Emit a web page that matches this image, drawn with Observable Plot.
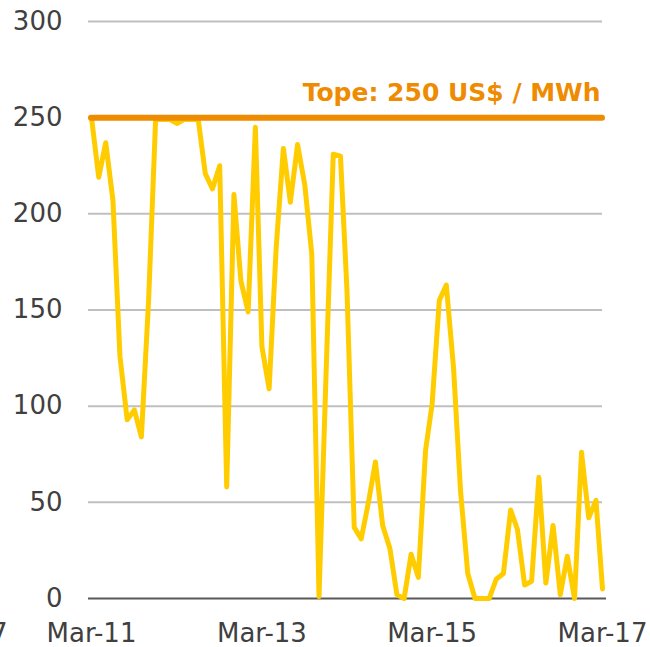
<!DOCTYPE html>
<html><head><meta charset="utf-8">
<script src="https://cdn.jsdelivr.net/npm/d3@7"></script>
<script src="https://cdn.jsdelivr.net/npm/@observablehq/plot@0.6"></script>
<style>
html,body{margin:0;padding:0;background:#fff;}
#chart svg{display:block;}
</style></head><body><div id="chart"></div>
<script>
const months = [
  "2011-03","2011-04","2011-05","2011-06","2011-07","2011-08","2011-09","2011-10","2011-11","2011-12",
  "2012-01","2012-02","2012-03","2012-04","2012-05","2012-06","2012-07","2012-08","2012-09","2012-10","2012-11","2012-12",
  "2013-01","2013-02","2013-03","2013-04","2013-05","2013-06","2013-07","2013-08","2013-09","2013-10","2013-11","2013-12",
  "2014-01","2014-02","2014-03","2014-04","2014-05","2014-06","2014-07","2014-08","2014-09","2014-10","2014-11","2014-12",
  "2015-01","2015-02","2015-03","2015-04","2015-05","2015-06","2015-07","2015-08","2015-09","2015-10","2015-11","2015-12",
  "2016-01","2016-02","2016-03","2016-04","2016-05","2016-06","2016-07","2016-08","2016-09","2016-10","2016-11","2016-12",
  "2017-01","2017-02","2017-03"
];
const prices = [
  250, 219, 237, 207, 126, 93, 98, 84, 155, 249,
  249, 249, 247, 249, 249, 249, 221, 213, 225, 58, 210, 165,
  149, 245, 131, 109, 182, 234, 206, 236, 215, 179, 1, 116,
  231, 230, 160, 37, 31, 50, 71, 38, 26, 2, 0, 23,
  11, 77, 101, 155, 163, 120, 56, 13, 0, 0, 0, 10,
  13, 46, 36, 7, 9, 63, 8, 38, 2, 22, 0, 76,
  42, 51, 5
];
const capValue = [250];
const capLabel = "Tope: 250 US$ / MWh";
const yTicks = [0, 50, 100, 150, 200, 250, 300];
const xTickMonths = ["2011-03", "2013-03", "2015-03", "2017-03"];
const xTickLabels = ["Mar-11", "Mar-13", "Mar-15", "Mar-17"];
const edgeLabel = ["Mar-17"];

const parse = d3.utcParse("%Y-%m");
const data = months.map((m, i) => ({date: parse(m), value: prices[i]}));
const xTicks = xTickMonths.map(parse);
const labelOf = new Map(xTicks.map((d, i) => [+d, xTickLabels[i]]));
const lastDate = parse(months[months.length - 1]);

const chart = Plot.plot({
  width: 650, height: 647,
  marginLeft: 91, marginRight: 48, marginTop: 21, marginBottom: 49,
  style: {fontFamily: "'DejaVu Sans', Verdana, sans-serif", fontSize: "26px", color: "#404040", background: "#fff"},
  x: {type: "utc", domain: [parse(months[0]), lastDate], ticks: xTicks, tickFormat: d => labelOf.get(+d), tickSize: 0, tickPadding: 25, label: null},
  y: {domain: [0, 300], ticks: yTicks, tickSize: 0, tickPadding: 29, label: null},
  marks: [
    Plot.ruleY(yTicks.filter(d => d > 0), {stroke: "#BFBFBF", strokeWidth: 2, insetLeft: -3}),
    Plot.ruleY([0], {stroke: "#595959", strokeWidth: 2, insetLeft: -3, insetRight: -4}),
    Plot.lineY(data, {x: "date", y: "value", stroke: "#FFCC00", strokeWidth: 5, strokeLinejoin: "round", strokeLinecap: "round"}),
    Plot.ruleY(capValue, {stroke: "#EE8B00", strokeWidth: 6, strokeLinecap: "round"}),
    Plot.text(capValue, {x: () => lastDate, y: d => d, text: () => capLabel, fill: "#EE8B00", fontWeight: "bold", fontSize: 25, textAnchor: "end", lineAnchor: "bottom", dy: -17, dx: -2}),
    Plot.text(edgeLabel, {frameAnchor: "bottom-left", text: d => d, textAnchor: "end", lineAnchor: "top", dx: -84, dy: 25, fill: "#404040", fontSize: 26})
  ]
});
document.getElementById("chart").appendChild(chart);
</script>
</body></html>
